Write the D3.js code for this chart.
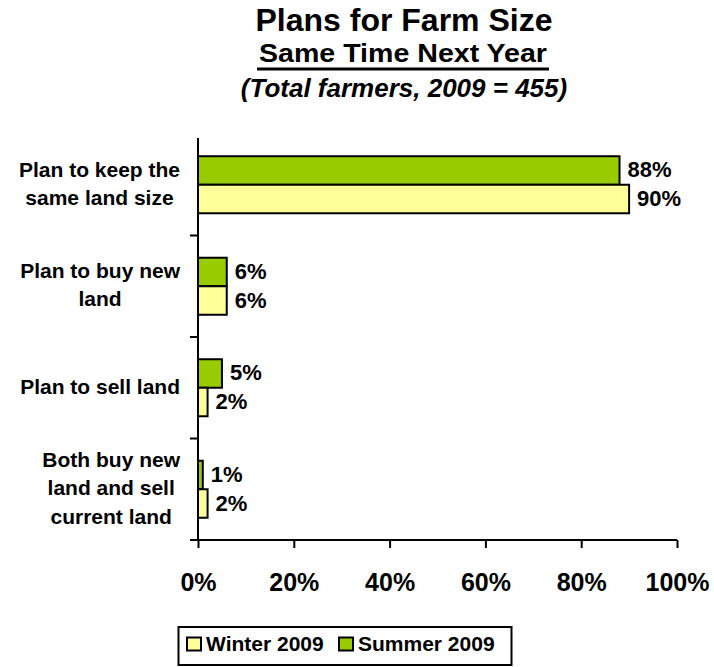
<!DOCTYPE html>
<html>
<head>
<meta charset="utf-8">
<script src="https://cdn.jsdelivr.net/npm/d3@7/dist/d3.min.js"></script>
<style>
  html, body { margin: 0; padding: 0; background: #fff; }
  svg { display: block; font-family: "Liberation Sans", Arial, sans-serif; }
</style>
</head>
<body>
<svg id="chart" width="714" height="667"></svg>
<script>
// Survey answers, percent of farmers
const categories = [
  ["Plan to keep the", "same land size"],
  ["Plan to buy new", "land"],
  ["Plan to sell land"],
  ["Both buy new", "land and sell", "current land"]
];
const summer2009 = [88, 6, 5, 1];
const winter2009 = [90, 6, 2, 2];
const seriesNames = ["Summer 2009", "Winter 2009"];
const legendOrder = ["Winter 2009", "Summer 2009"];
const xTicks = [0, 20, 40, 60, 80, 100];

const colors = { "Summer 2009": "#99CC00", "Winter 2009": "#FFFF99" };
const seriesValues = { "Summer 2009": summer2009, "Winter 2009": winter2009 };

const svg = d3.select("#chart");
const plotLeft = 198, plotRight = 677, plotTop = 134, plotBottom = 540;

const x = d3.scaleLinear().domain([0, 100]).range([plotLeft, plotRight]);
const y = d3.scaleBand().domain(d3.range(categories.length)).range([plotTop, plotBottom]).paddingInner(0).paddingOuter(0);
const inner = d3.scaleBand().domain(seriesNames).range([0, y.bandwidth()]).paddingInner(0).paddingOuter(0.78);

// Titles
svg.append("text").attr("x", 404).attr("y", 31).attr("text-anchor", "middle")
  .attr("font-size", 32).attr("font-weight", "bold").text("Plans for Farm Size");
const sub = svg.append("text").attr("x", 403).attr("y", 62).attr("text-anchor", "middle")
  .attr("font-size", 26).attr("font-weight", "bold")
  .attr("textLength", 288).attr("lengthAdjust", "spacingAndGlyphs")
  .text("Same Time Next Year");
const sb = sub.node().getBBox();
svg.append("line").attr("x1", sb.x - 2).attr("x2", sb.x + sb.width + 2)
  .attr("y1", 69).attr("y2", 69).attr("stroke", "#000").attr("stroke-width", 3);
svg.append("text").attr("x", 404).attr("y", 97).attr("text-anchor", "middle")
  .attr("font-size", 26).attr("font-weight", "bold").attr("font-style", "italic")
  .text("(Total farmers, 2009 = 455)");

// Bars
const groups = svg.append("g").selectAll("g").data(categories).join("g")
  .attr("transform", (d, i) => `translate(0,${y(i)})`);

seriesNames.forEach(name => {
  groups.append("rect")
    .attr("x", x(0))
    .attr("y", inner(name))
    .attr("width", (d, i) => x(seriesValues[name][i]) - x(0))
    .attr("height", inner.bandwidth())
    .attr("fill", colors[name])
    .attr("stroke", "#000").attr("stroke-width", 2);
  groups.append("text")
    .attr("x", (d, i) => x(seriesValues[name][i]) + 8)
    .attr("y", inner(name) + inner.bandwidth() / 2 + 7)
    .attr("font-size", 22).attr("font-weight", "bold")
    .text((d, i) => seriesValues[name][i] + "%");
});

// Category labels: lines centred within a block that ends at the axis gap
groups.each(function(lines) {
  const g = d3.select(this);
  const n = lines.length;
  const lh = 28.3;
  const cy = y.bandwidth() / 2;
  const texts = lines.map((line, k) => g.append("text")
      .attr("text-anchor", "middle")
      .attr("y", cy + (k - (n - 1) / 2) * lh + 6)
      .attr("font-size", 21).attr("font-weight", "bold").text(line));
  const maxW = d3.max(texts, t => t.node().getComputedTextLength());
  texts.forEach(t => t.attr("x", 180 - maxW / 2));
});

// Axes
const xAxis = d3.axisBottom(x).tickValues(xTicks).tickFormat(d => d + "%").tickSize(8);
const gx = svg.append("g").attr("transform", `translate(0,${plotBottom})`).call(xAxis);
gx.select(".domain").attr("d", `M${plotLeft - 8},0H${plotRight}`).attr("stroke", "#000").attr("stroke-width", 2);
gx.selectAll(".tick line").attr("stroke", "#000").attr("stroke-width", 2);
gx.selectAll(".tick text").attr("font-size", 25).attr("font-weight", "bold")
  .attr("font-family", "Liberation Sans, Arial, sans-serif").attr("fill", "#000")
  .attr("dy", null).attr("y", 51);

const yTickScale = d3.scaleLinear().domain([0, categories.length]).range([plotTop, plotBottom]);
const gy = svg.append("g");
gy.append("line").attr("x1", plotLeft).attr("x2", plotLeft).attr("y1", 138).attr("y2", plotBottom)
  .attr("stroke", "#000").attr("stroke-width", 2);
gy.selectAll("line.t").data(d3.range(1, categories.length + 1)).join("line").attr("class", "t")
  .attr("x1", plotLeft - 8).attr("x2", plotLeft)
  .attr("y1", d => yTickScale(d)).attr("y2", d => yTickScale(d))
  .attr("stroke", "#000").attr("stroke-width", 2);

// Legend
const lg = svg.append("g");
lg.append("rect").attr("x", 178.5).attr("y", 627).attr("width", 333).attr("height", 38)
  .attr("fill", "#fff").attr("stroke", "#000").attr("stroke-width", 2);
const legX = [187, 339];
legendOrder.forEach((name, i) => {
  lg.append("rect").attr("x", legX[i]).attr("y", 637.5).attr("width", 14).attr("height", 13)
    .attr("fill", colors[name]).attr("stroke", "#000").attr("stroke-width", 2);
  lg.append("text").attr("x", legX[i] + 19).attr("y", 651)
    .attr("font-size", 21).attr("font-weight", "bold").text(name);
});
</script>
</body>
</html>
